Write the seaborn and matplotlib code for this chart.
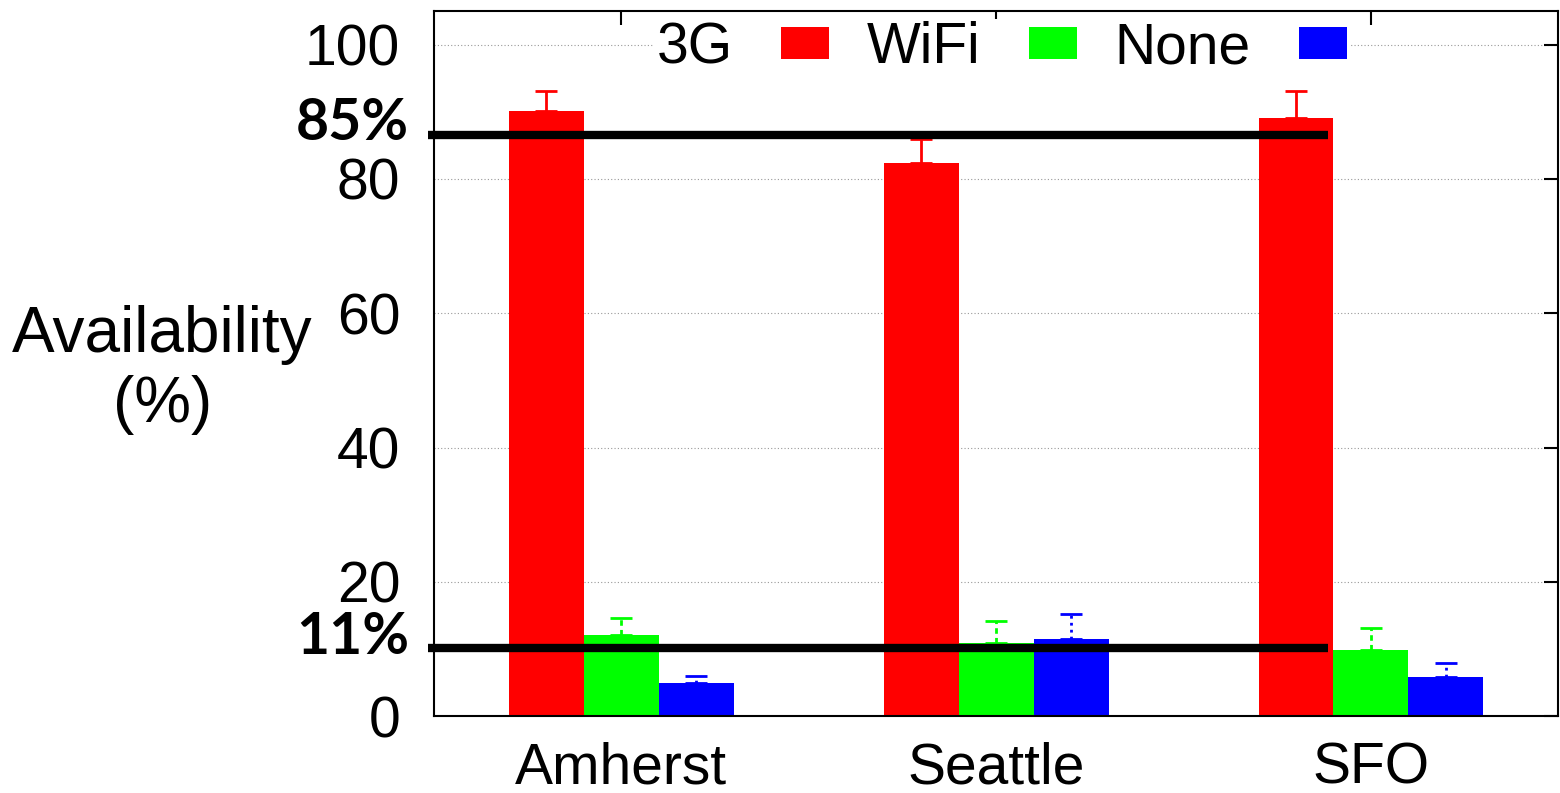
import matplotlib
matplotlib.use("Agg")
import matplotlib.pyplot as plt
import seaborn as sns
import pandas as pd
import numpy as np
from matplotlib.patches import Patch

cities = ["Amherst", "Seattle", "SFO"]
networks = ["3G", "WiFi", "None"]
avail_3g = [90.1, 82.4, 89.1]
avail_wifi = [12.1, 10.9, 9.9]
avail_none = [4.9, 11.5, 5.8]
err_3g = [3.0, 3.6, 4.0]
err_wifi = [2.5, 3.3, 3.2]
err_none = [1.1, 3.7, 2.1]
ref_levels = [86.6, 10.1]
ref_labels = ["85%", "11%"]
yticks = [0, 20, 40, 60, 80, 100]

colors = {"3G": "#ff0000", "WiFi": "#00ff00", "None": "#0000ff"}
err_styles = {"3G": "-", "WiFi": (0, (2, 1.5)), "None": (0, (1, 1.5))}

rows = []
for net, vals in zip(networks, [avail_3g, avail_wifi, avail_none]):
    for c, v in zip(cities, vals):
        rows.append({"City": c, "Network": net, "Availability": v})
df = pd.DataFrame(rows)

sns.set_theme(style="white")
plt.rcParams["font.family"] = ["Liberation Sans", "DejaVu Sans"]
plt.rcParams["text.color"] = "black"
plt.rcParams["axes.labelcolor"] = "black"

fig = plt.figure(figsize=(15.6, 7.93), dpi=100)
ax = fig.add_axes([0.278, 0.097, 0.721, 0.889])

sns.barplot(data=df, x="City", y="Availability", hue="Network", order=cities,
            hue_order=networks, palette=colors, saturation=1, width=0.6,
            linewidth=0, errorbar=None, ax=ax, legend=False, zorder=2)

# error bars (upper only) from bar patch positions
errs = {"3G": err_3g, "WiFi": err_wifi, "None": err_none}
vals = {"3G": avail_3g, "WiFi": avail_wifi, "None": avail_none}
patches = [p for p in ax.patches]
for i, net in enumerate(networks):
    ps = patches[i * 3:(i + 1) * 3]
    xs = [p.get_x() + p.get_width() / 2 for p in ps]
    eb = ax.errorbar(xs, vals[net], yerr=[np.zeros(3), errs[net]], fmt="none",
                     ecolor=colors[net], elinewidth=2, capsize=8, capthick=2,
                     zorder=3)
    for lc in eb[2]:
        lc.set_linestyle(err_styles[net])

ax.set_ylim(0, 105)
ax.set_xlim(-0.5, 2.5)
ax.set_yticks(yticks)
ax.yaxis.grid(True, linestyle=(0, (1, 2)), color="#999999", linewidth=0.8)
ax.set_axisbelow(True)

for s in ax.spines.values():
    s.set_color("black")
    s.set_linewidth(1.5)

ax.tick_params(axis="both", direction="in", length=10, width=1.5, colors="black",
               labelsize=41, top=True, right=True)
ax.tick_params(axis="y", pad=24)
ax.tick_params(axis="x", pad=18)
ax.set_xlabel("")
ax.set_ylabel("Availability\n(%)", rotation=0, fontsize=46, ha="center", va="center",
              linespacing=1.2)
ax.yaxis.set_label_coords(-0.241, 0.491)

# reference lines
for lvl, lab in zip(ref_levels, ref_labels):
    ax.plot([-0.516, 1.886], [lvl, lvl], color="black", linewidth=6,
            clip_on=False, zorder=5, solid_capstyle="butt")
    ax.text(-0.565, lvl + 1.6, lab, ha="right", va="center", fontsize=41,
            fontweight="bold", family=["Lato", "DejaVu Sans"], color="black")

handles = [Patch(facecolor=colors[n], edgecolor="none") for n in networks]
leg = ax.legend(handles, networks, loc="center", bbox_to_anchor=(0.505, 0.947),
                ncol=3, markerfirst=False, fontsize=41, frameon=True,
                fancybox=False, framealpha=1, edgecolor="none",
                handlelength=0.85, handleheight=0.5, columnspacing=0.65,
                handletextpad=0.85, borderpad=0.05)
leg.set_zorder(6)

fig.savefig("out.png", dpi=100)
